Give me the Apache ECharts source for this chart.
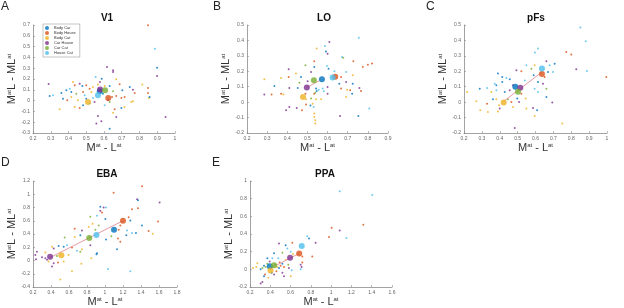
<!DOCTYPE html>
<html>
<head>
<meta charset="utf-8">
<script src="https://cdn.jsdelivr.net/npm/echarts@6/dist/echarts.min.js"></script>
<style>
  html, body { margin: 0; padding: 0; background: #fff; }
  #chart { width: 624px; height: 308px; }
</style>
</head>
<body>
<div id="chart"></div>
<script>
// 组别和颜色 (MATLAB 默认配色)
const groups = ['Body Car', 'Body House', 'Body Cat', 'Car House', 'Car Cat', 'House Cat']
const groupColors = ['#0072BD', '#D95319', '#EDB120', '#7E2F8E', '#77AC30', '#4DBEEE']

// 轴范围 [min, max, interval]
const v1X = [0.2, 1, 0.1],  v1Y = [-0.3, 0.7, 0.1]
const loX = [0.2, 0.9, 0.1], loY = [-0.2, 0.5, 0.1]
const pfsX = [0.2, 1, 0.1], pfsY = [-0.2, 0.5, 0.1]
const ebaX = [0.2, 1.8, 0.2], ebaY = [-0.4, 1.2, 0.2]
const ppaX = [0.2, 1.6, 0.2], ppaY = [-0.2, 1, 0.2]

// 单个被试点 [x, y, 组别索引]
const v1Points = [
  [0.848,0.697,1],[0.887,0.481,5],[0.899,0.305,0],[0.899,0.228,3],[0.617,0.311,3],[0.651,0.28,3],
  [0.651,0.265,3],[0.553,0.219,5],[0.587,0.203,0],[0.577,0.172,3],[0.288,0.154,3],[0.425,0.172,2],
  [0.435,0.142,1],[0.463,0.157,3],[0.478,0.135,0],[0.50,0.142,1],[0.538,0.126,2],[0.632,0.136,0],
  [0.688,0.151,1],[0.745,0.126,0],[0.816,0.148,2],[0.36,0.071,0],[0.313,0.049,5],[0.294,0.043,0],
  [0.388,0.095,0],[0.444,0.064,4],[0.482,0.08,1],[0.529,0.08,2],[0.651,0.086,4],[0.703,0.095,0],
  [0.763,0.101,3],[0.773,0.071,1],[0.848,0.071,1],[0.853,0.024,2],[0.393,0.003,1],[0.416,0.034,2],
  [0.50,0.018,0],[0.538,0.024,5],[0.547,-0.013,3],[0.519,-0.028,5],[0.482,-0.044,0],[0.463,-0.068,1],
  [0.435,-0.059,2],[0.35,-0.081,2],[0.632,-0.013,4],[0.669,0.043,1],[0.698,0.024,1],[0.716,0.034,1],
  [0.754,-0.013,2],[0.763,-0.007,2],[0.716,-0.059,2],[0.66,-0.081,1],[0.651,-0.112,2],[0.669,-0.152,3],
  [0.698,-0.068,0],[0.947,-0.152,3],[0.566,-0.142,3],[0.585,-0.192,3],[0.557,-0.213,3],[0.632,-0.26,0],
  [0.604,-0.044,5],[0.623,0.003,3],[0.594,0.064,0],[0.604,0.136,2],[0.848,0.117,1],[0.857,0.033,0],
  [0.407,0.11,5],[0.416,0.08,0],[0.369,0.018,0],[0.491,0.049,5],[0.453,0.003,2],[0.519,0.11,1],
  [0.566,0.148,2],[0.645,0.033,1],[0.669,0.197,2]
]
const loPoints = [
  [0.755,0.418,5],[0.609,0.39,3],[0.587,0.364,5],[0.546,0.347,2],[0.592,0.329,0],[0.6,0.314,3],
  [0.672,0.293,5],[0.678,0.288,4],[0.534,0.265,1],[0.728,0.265,1],[0.821,0.25,1],[0.8,0.243,1],
  [0.775,0.228,1],[0.534,0.228,0],[0.597,0.234,5],[0.605,0.217,0],[0.49,0.239,4],[0.407,0.213,3],
  [0.518,0.195,3],[0.634,0.2,5],[0.692,0.195,5],[0.725,0.174,2],[0.443,0.185,2],[0.369,0.157,2],
  [0.286,0.148,2],[0.407,0.163,1],[0.468,0.163,0],[0.667,0.163,1],[0.46,0.126,4],[0.501,0.135,3],
  [0.658,0.12,0],[0.692,0.131,3],[0.725,0.12,0],[0.576,0.088,5],[0.543,0.088,0],[0.6,0.098,3],
  [0.336,0.105,0],[0.41,0.092,3],[0.452,0.092,0],[0.667,0.088,1],[0.758,0.092,3],[0.766,0.072,1],
  [0.546,0.072,0],[0.556,0.081,5],[0.581,0.07,5],[0.697,0.081,2],[0.712,0.077,1],[0.286,0.049,3],
  [0.322,0.049,1],[0.369,0.055,1],[0.38,0.049,2],[0.49,0.055,1],[0.534,0.055,1],[0.6,0.055,3],
  [0.722,0.055,0],[0.692,0.034,2],[0.518,0.023,4],[0.493,0.018,2],[0.543,0.018,2],[0.568,0.018,2],
  [0.539,0.061,4],[0.526,-0.01,2],[0.493,-0.016,1],[0.41,-0.031,3],[0.394,-0.053,3],[0.447,-0.038,3],
  [0.473,-0.053,1],[0.515,-0.021,0],[0.531,-0.031,5],[0.534,-0.074,2],[0.534,-0.096,2],[0.539,-0.118,2],
  [0.539,-0.139,2],[0.662,-0.09,3],[0.753,-0.09,0],[0.807,-0.042,5]
]
const pfsPoints = [
  [0.851,0.483,5],[0.881,0.394,5],[0.597,0.321,5],[0.614,0.347,5],[0.772,0.325,1],[0.8,0.308,1],
  [0.828,0.213,3],[0.888,0.202,5],[0.996,0.163,1],[0.661,0.265,3],[0.679,0.239,5],[0.707,0.249,0],
  [0.549,0.239,5],[0.595,0.239,2],[0.493,0.206,3],[0.521,0.2,1],[0.577,0.217,4],[0.59,0.174,0],
  [0.651,0.163,1],[0.67,0.195,0],[0.698,0.195,5],[0.39,0.185,0],[0.414,0.163,0],[0.437,0.157,5],
  [0.456,0.148,0],[0.414,0.131,0],[0.372,0.12,5],[0.381,0.109,0],[0.474,0.109,3],[0.54,0.141,5],
  [0.614,0.131,0],[0.642,0.12,3],[0.661,0.087,4],[0.595,0.087,5],[0.614,0.066,5],[0.288,0.087,0],
  [0.329,0.092,5],[0.353,0.066,2],[0.381,0.077,5],[0.428,0.066,0],[0.456,0.077,3],[0.217,0.066,2],
  [0.269,0.005,2],[0.329,-0.01,1],[0.362,0.018,0],[0.381,0.018,2],[0.396,-0.02,2],[0.4,-0.042,3],
  [0.39,-0.06,2],[0.291,-0.053,2],[0.334,-0.064,2],[0.474,-0.031,2],[0.465,0.001,1],[0.508,0.001,3],
  [0.545,0.023,2],[0.549,-0.042,2],[0.586,-0.038,3],[0.609,-0.053,0],[0.595,-0.09,2],[0.484,-0.168,3],
  [0.694,-0.003,3],[0.661,0.034,0],[0.75,-0.139,2],[0.498,0.023,0],[0.521,0.055,1],[0.446,0.018,4]
]
const ebaPoints = [
  [1.411,1.121,1],[1.096,1.022,1],[1.356,0.924,3],[1.367,0.909,0],[1.607,0.874,3],[0.948,0.81,0],
  [0.985,0.8,3],[0.948,0.75,3],[0.967,0.726,1],[1.011,0.8,5],[1.3,0.775,1],[1.367,0.79,1],
  [1.004,0.627,0],[0.837,0.662,4],[0.911,0.676,5],[1.263,0.652,1],[1.281,0.602,0],[1.411,0.528,0],
  [1.589,0.588,1],[1.17,0.528,1],[0.93,0.528,4],[0.863,0.553,2],[0.819,0.504,2],[0.663,0.479,1],
  [0.744,0.454,3],[0.893,0.464,4],[1.152,0.464,1],[1.244,0.454,5],[1.237,0.38,0],[1.3,0.415,5],
  [1.344,0.415,0],[1.485,0.444,1],[1.53,0.405,2],[0.552,0.346,4],[0.663,0.356,2],[0.726,0.38,0],
  [1.011,0.316,0],[1.07,0.365,4],[1.144,0.331,1],[1.17,0.282,1],[0.485,0.217,0],[0.541,0.207,0],
  [0.578,0.232,5],[0.633,0.198,1],[0.411,0.207,2],[0.43,0.183,3],[0.689,0.148,5],[0.726,0.133,4],
  [0.744,0.168,2],[0.911,0.109,0],[0.905,0.095,0],[1.133,0.168,0],[0.848,0.035,2],[0.596,0.084,2],
  [0.244,0.133,3],[0.226,0.084,3],[0.3,0.05,3],[0.337,0.035,3],[0.356,0.01,3],[0.374,-0.015,2],
  [0.411,-0.089,3],[0.478,-0.03,1],[0.541,-0.015,2],[0.233,0.02,3],[0.737,-0.05,2],[0.633,-0.163,2],
  [1.033,-0.128,5],[1.281,-0.163,5],[0.504,-0.286,2],[0.837,0.232,3],[0.337,0.119,2],[0.467,0.069,4],
  [0.43,-0.04,3]
]
const ppaPoints = [
  [1.084,0.885,5],[1.406,0.841,5],[1.005,0.47,1],[1.084,0.441,3],[1.317,0.504,1],[0.979,0.367,1],
  [1.15,0.356,5],[0.765,0.374,5],[0.782,0.348,0],[0.847,0.3,3],[0.617,0.3,1],[0.552,0.274,0],
  [0.568,0.237,5],[0.486,0.293,3],[0.437,0.181,0],[0.42,0.126,5],[0.371,0.126,0],[0.519,0.189,4],
  [0.601,0.2,5],[0.624,0.174,2],[0.814,0.144,1],[0.716,0.144,1],[0.716,0.078,1],[0.7,0.052,3],
  [0.709,0.026,3],[0.7,0,5],[0.479,0.126,5],[0.492,0.078,1],[0.519,0.063,0],[0.552,0.107,2],
  [0.578,0.052,4],[0.535,0.026,1],[0.584,0.015,3],[0.611,-0.011,5],[0.519,-0.04,3],[0.535,-0.078,3],
  [0.601,-0.078,2],[0.338,0.041,0],[0.322,0.015,4],[0.305,0,0],[0.272,0.07,2],[0.262,0.026,2],
  [0.23,0.015,2],[0.371,0.063,4],[0.354,0.026,4],[0.453,0.052,4],[0.469,0.026,2],[0.414,-0.04,0],
  [0.437,-0.059,3],[0.348,-0.059,1],[0.338,-0.078,0],[0.322,-0.144,3],[0.305,-0.159,3],[0.381,-0.096,2],
  [0.486,0.015,0],[0.46,-0.022,1],[0.394,0.089,3],[0.502,0.041,1]
]

// 各组平均值 (顺序同 groups)
const v1Means  = [[0.576,0.086],[0.624,0.024],[0.51,-0.012],[0.578,0.103],[0.606,0.095],[0.566,0.049]]
const loMeans  = [[0.572,0.149],[0.638,0.164],[0.478,0.033],[0.497,0.095],[0.532,0.142],[0.625,0.16]]
const pfsMeans = [[0.487,0.1],[0.636,0.182],[0.422,-0.003],[0.515,0.093],[0.502,0.068],[0.636,0.218]]
const ebaMeans = [[1.1,0.464],[1.2,0.6],[0.515,0.08],[0.39,0.056],[0.825,0.341],[0.905,0.385]]
const ppaMeans = [[0.395,0.035],[0.685,0.18],[0.402,-0.013],[0.595,0.132],[0.437,0.045],[0.71,0.264]]

// 拟合线端点
const loFit  = [[0.497,0.095],[0.56,0.14]]
const pfsFit = [[0.422,0.005],[0.636,0.195]]
const ebaFit = [[0.39,0.045],[1.2,0.6]]
const ppaFit = [[0.4,0.01],[0.685,0.18]]

const panels = [
  { letter: 'A', title: 'V1',  pts: v1Points,  means: v1Means,  fit: null,   xr: v1X,  yr: v1Y,  grid: { left: 33,  top: 25,  width: 142, height: 108 }, tx: 107, lx: 1 },
  { letter: 'B', title: 'LO',  pts: loPoints,  means: loMeans,  fit: loFit,  xr: loX,  yr: loY,  grid: { left: 247, top: 25,  width: 141, height: 108 }, tx: 324, lx: 213 },
  { letter: 'C', title: 'pFs', pts: pfsPoints, means: pfsMeans, fit: pfsFit, xr: pfsX, yr: pfsY, grid: { left: 464, top: 25,  width: 143, height: 108 }, tx: 536, lx: 426 },
  { letter: 'D', title: 'EBA', pts: ebaPoints, means: ebaMeans, fit: ebaFit, xr: ebaX, yr: ebaY, grid: { left: 33,  top: 181, width: 144, height: 108 }, tx: 107, lx: 1 },
  { letter: 'E', title: 'PPA', pts: ppaPoints, means: ppaMeans, fit: ppaFit, xr: ppaX, yr: ppaY, grid: { left: 250, top: 181, width: 142, height: 108 }, tx: 325, lx: 212 }
]

const font = 'Liberation Sans, Arial, sans-serif'
const axisColor = '#8c8c8c'
const nameStyle = {
  fontFamily: font, fontSize: 11, color: '#333',
  rich: { s: { fontFamily: font, fontSize: 6, color: '#333', verticalAlign: 'top' } }
}

function makeAxis(range, i, isX) {
  return {
    type: 'value',
    gridIndex: i,
    min: range[0], max: range[1], interval: range[2],
    name: isX ? 'M{s|at} - L{s|at}' : 'M{s|at}L - ML{s|at}',
    nameLocation: 'middle',
    nameGap: isX ? 9 : 13,
    nameTextStyle: nameStyle,
    axisLine: { show: true, onZero: false, lineStyle: { color: axisColor, width: 0.8 } },
    axisTick: { show: true, inside: true, length: 2, lineStyle: { color: axisColor, width: 0.6 } },
    axisLabel: { fontFamily: font, fontSize: 5, color: '#666', margin: 3 },
    splitLine: { show: false }
  }
}

const titles = []
const grids = []
const xAxes = []
const yAxes = []
const series = []

panels.forEach((p, i) => {
  const top = p.grid.top
  titles.push({
    text: p.letter, left: p.lx, top: top - 24, padding: 0,
    textStyle: { fontFamily: font, fontSize: 12, fontWeight: 'normal', color: '#222' }
  })
  titles.push({
    text: p.title, left: p.tx, top: top - 12, textAlign: 'center', padding: 0,
    textStyle: { fontFamily: font, fontSize: 10, fontWeight: 'bold', color: '#111' }
  })
  grids.push(p.grid)
  xAxes.push(makeAxis(p.xr, i, true))
  yAxes.push(makeAxis(p.yr, i, false))

  series.push({
    type: 'scatter', xAxisIndex: i, yAxisIndex: i,
    symbolSize: 2, data: p.pts, silent: true, z: 2,
    itemStyle: { color: d => groupColors[d.data[2]] }
  })
  if (p.fit) {
    series.push({
      type: 'line', xAxisIndex: i, yAxisIndex: i, data: p.fit,
      symbol: 'none', silent: true, z: 3,
      lineStyle: { color: '#E89AA6', width: 1 }
    })
  }
  groups.forEach((g, k) => {
    series.push({
      type: 'scatter', name: g, xAxisIndex: i, yAxisIndex: i,
      symbolSize: 6, data: [p.means[k]], z: 4,
      itemStyle: { color: groupColors[k] }
    })
  })
})

const chart = echarts.init(document.getElementById('chart'), null, { renderer: 'canvas' })
chart.setOption({
  animation: false,
  backgroundColor: '#fff',
  title: titles,
  legend: {
    data: groups,
    orient: 'vertical',
    left: 43, top: 24,
    icon: 'circle',
    itemWidth: 4, itemHeight: 4, itemGap: 1,
    padding: [2, 4, 2, 2],
    borderColor: '#888', borderWidth: 0.5,
    backgroundColor: '#fff',
    textStyle: { fontFamily: font, fontSize: 4, color: '#333' },
    selectedMode: false
  },
  grid: grids,
  xAxis: xAxes,
  yAxis: yAxes,
  series: series
})
</script>
</body>
</html>
